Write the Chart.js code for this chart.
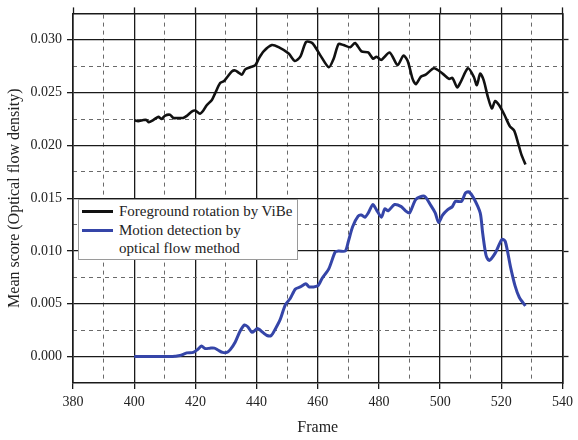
<!DOCTYPE html>
<html>
<head>
<meta charset="utf-8">
<script src="https://cdn.jsdelivr.net/npm/chart.js@4"></script>
<style>
  html, body { margin: 0; padding: 0; background: #fff; }
  #wrap { position: relative; width: 578px; height: 440px; }
  #legend { position: absolute; left: 78px; top: 199px; width: 220px; height: 61px; box-sizing: border-box;
    border: 1px solid #9a9a9a; background: #fff; font-family: "Liberation Serif", "Times New Roman", serif;
    font-size: 15px; color: #222; }
  .lline { position: absolute; left: 3px; width: 31px; height: 3px; }
  .ltext { position: absolute; left: 40px; line-height: 18.5px; white-space: nowrap; }
</style>
</head>
<body>
<div id="wrap">
  <canvas id="c" width="578" height="440"></canvas>
  <div id="legend">
    <div class="lline" style="top:10px;background:#111;"></div>
    <div class="lline" style="top:29px;background:#3545a8;"></div>
    <div class="ltext" style="top:2px;">Foreground rotation by ViBe<br>Motion detection by<br>optical flow method</div>
  </div>
</div>
<script>
const vibeLabel = 'Foreground rotation by ViBe';
const flowLabel = 'Motion detection by optical flow method';

const vibeFrames = [400,401.3,403,404,404.8,406.2,407.9,409,410,411.7,412.8,414.4,416,417.2,418.8,419.9,421.5,422.6,423.7,425.4,426.4,428.1,429.4,430.5,431.9,433,434.1,435.2,436.3,437.9,439.6,440.7,442.3,445,447.2,450.5,452.5,454.3,456.2,458.2,460.9,463.6,465.2,466.8,468.4,470.6,472.2,474.3,476.5,478.1,479.2,480.8,483.5,486.1,488,489.4,491,492.1,493.7,495.3,498,500.8,502.9,504,505.6,506.7,509.1,511,512,513.1,514.2,515.6,516.9,518,519.3,521,522.8,524.2,525.5,526.6,527.9];
const vibeScores = [0.0224,0.0223,0.0224,0.0224,0.0222,0.0224,0.0227,0.0225,0.0228,0.0229,0.0226,0.0226,0.0226,0.0228,0.0232,0.0233,0.0230,0.0233,0.0238,0.0243,0.0249,0.0259,0.0261,0.0265,0.0270,0.0271,0.0269,0.0267,0.0272,0.0274,0.0276,0.0282,0.0289,0.0295,0.0293,0.0287,0.0280,0.0284,0.0298,0.0297,0.0285,0.0274,0.0282,0.0296,0.0295,0.0293,0.0297,0.0289,0.0288,0.0282,0.0284,0.0281,0.0288,0.0276,0.0285,0.0280,0.0263,0.0258,0.0265,0.0267,0.0273,0.0268,0.0263,0.0264,0.0255,0.0260,0.0273,0.0265,0.0257,0.0268,0.0262,0.0246,0.0235,0.0242,0.0238,0.0229,0.0218,0.0214,0.0202,0.0191,0.0182];

const flowFrames = [400,403,406,409,412,413.3,415,417.2,419.3,420.7,422,423.2,424.8,426.2,427.5,428.9,430.3,431.4,433,434.6,436.1,437.2,438.5,440.3,442,443.4,444.8,446.1,447.7,449.4,451,452.7,454.3,456.1,457.2,460,461.4,463.6,465.7,466.8,469,470,471.4,473.2,474.3,475.4,476.5,478,479.2,480.8,481.9,483,485.1,487.3,488.7,490,492.1,494.8,497,498.4,499.5,500.8,502.4,504,505,507,508.3,509.4,511,513.1,513.9,515,516,518,520.2,521.3,523,524.5,525.9,527.9];
const flowScores = [0,0,0,0,0,0.00003,0.0001,0.00035,0.0004,0.00066,0.001,0.00076,0.0008,0.0008,0.0006,0.0004,0.0004,0.00066,0.00136,0.0024,0.0030,0.0028,0.0023,0.00265,0.0023,0.0020,0.0020,0.0026,0.0035,0.0049,0.0055,0.0064,0.0066,0.0069,0.0066,0.0067,0.0074,0.0083,0.0099,0.0100,0.0100,0.0109,0.0123,0.0133,0.0134,0.0132,0.0136,0.0144,0.0139,0.0132,0.0140,0.0138,0.0144,0.0142,0.0138,0.0136,0.0149,0.0152,0.0143,0.0136,0.0127,0.0134,0.0139,0.0142,0.0147,0.0147,0.0155,0.0156,0.0150,0.0136,0.0117,0.0096,0.0091,0.0098,0.0111,0.0109,0.0085,0.0067,0.0056,0.0048];

const xMin = 380, xMax = 540, xMajor = 20, xMinor = 10;
const yMin = -0.0025, yMax = 0.0325, yMajor = 0.005, yMinor = 0.0025;
const xTitle = 'Frame';
const yTitle = 'Mean score (Optical flow density)';

const FONT = '"Liberation Serif", "Times New Roman", serif';
const isMajor = (v, step) => Math.abs(v / step - Math.round(v / step)) < 1e-6;
const isEdge = (v, lo, hi) => Math.abs(v - lo) < 1e-9 || Math.abs(v - hi) < 1e-9;
const toPts = (xs, ys) => xs.map((x, i) => ({ x: x, y: ys[i] }));
const DARK = '#1a1a1a', DASH = '#6a6a6a', NONE = 'rgba(0,0,0,0)';

new Chart(document.getElementById('c'), {
  type: 'line',
  data: {
    datasets: [
      { label: vibeLabel, data: toPts(vibeFrames, vibeScores), borderColor: '#111', borderWidth: 2.6,
        pointRadius: 0, tension: 0.25, fill: false, xAxisID: 'x', yAxisID: 'y' },
      { label: flowLabel, data: toPts(flowFrames, flowScores), borderColor: '#3545a8', borderWidth: 3,
        pointRadius: 0, tension: 0.25, fill: false, xAxisID: 'x', yAxisID: 'y' }
    ]
  },
  options: {
    responsive: false,
    animation: false,
    devicePixelRatio: 1,
    layout: { padding: 0 },
    plugins: { legend: { display: false }, tooltip: { enabled: false } },
    scales: {
      x: {
        type: 'linear', position: 'bottom', min: xMin, max: xMax,
        afterFit: s => { s.height = 57; },
        ticks: { stepSize: xMinor, autoSkip: false, maxRotation: 0, padding: 5, color: '#222',
          font: { family: FONT, size: 14 }, callback: v => isMajor(v, xMajor) ? String(v) : '' },
        grid: { color: c => isMajor(c.tick.value, xMajor) ? DARK : NONE, lineWidth: 1.3,
          tickLength: 6, tickColor: c => isMajor(c.tick.value, xMajor) ? DARK : NONE, tickWidth: 1.3 },
        border: { color: DARK, width: 1.6 },
        title: { display: true, text: xTitle, color: '#222', font: { family: FONT, size: 16 }, padding: { top: 4, bottom: 3 } }
      },
      x2: {
        type: 'linear', position: 'top', min: xMin, max: xMax,
        afterFit: s => { s.height = 12; },
        ticks: { display: false, stepSize: xMinor, autoSkip: false },
        grid: { color: c => (isMajor(c.tick.value, xMajor) || isEdge(c.tick.value, xMin, xMax)) ? NONE : DASH, lineWidth: 1,
          tickLength: 6, tickColor: c => isMajor(c.tick.value, xMajor) ? DARK : NONE, tickWidth: 1.3 },
        border: { color: DARK, width: 1.6, dash: [4, 4] }
      },
      y: {
        type: 'linear', position: 'left', min: yMin, max: yMax,
        afterFit: s => { s.width = 73; },
        ticks: { stepSize: yMinor, maxTicksLimit: 100, autoSkip: false, padding: 5, color: '#222',
          font: { family: FONT, size: 14 }, callback: v => (isMajor(v, yMajor) ? v.toFixed(3) : '') },
        grid: { color: c => isMajor(c.tick.value, yMajor) ? DARK : NONE, lineWidth: 1.3,
          tickLength: 6, tickColor: c => isMajor(c.tick.value, yMajor) ? DARK : NONE, tickWidth: 1.3 },
        border: { color: DARK, width: 1.6 },
        title: { display: true, text: yTitle, color: '#222', font: { family: FONT, size: 16 }, padding: { top: 5, bottom: 4 } }
      },
      y2: {
        type: 'linear', position: 'right', min: yMin, max: yMax,
        afterFit: s => { s.width = 10; },
        ticks: { display: false, stepSize: yMinor, maxTicksLimit: 100, autoSkip: false },
        grid: { color: c => (isMajor(c.tick.value, yMajor) || isEdge(c.tick.value, yMin, yMax)) ? NONE : DASH, lineWidth: 1,
          tickLength: 6, tickColor: c => isMajor(c.tick.value, yMajor) ? DARK : NONE, tickWidth: 1.3 },
        border: { color: DARK, width: 1.6, dash: [4, 4] }
      }
    }
  }
});
</script>
</body>
</html>
